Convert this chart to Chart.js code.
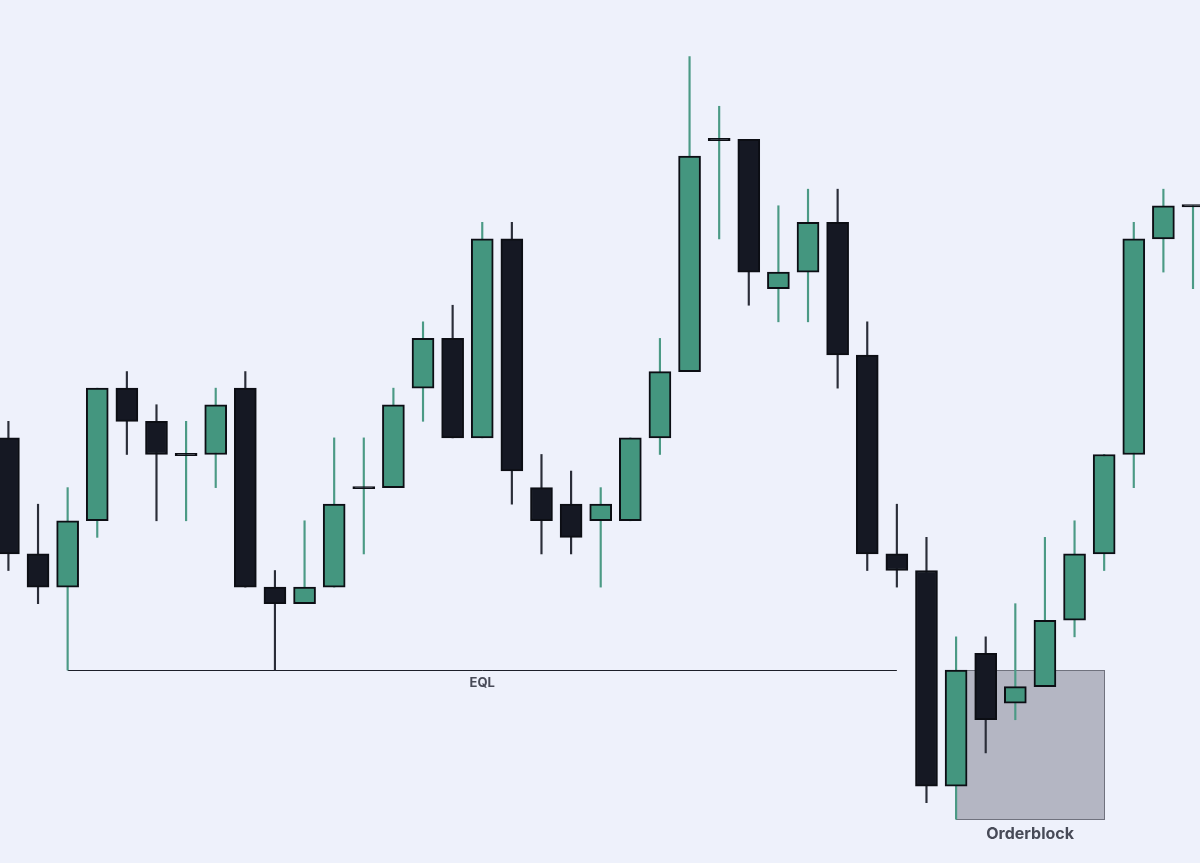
<!DOCTYPE html>
<html>
<head>
<meta charset="utf-8">
<title>EQL / Orderblock</title>
<script src="https://cdn.jsdelivr.net/npm/chart.js@4.4.1/dist/chart.umd.min.js"></script>
<style>
    html, body { margin: 0; padding: 0; background: #eef1fb; }
    #wrap { width: 1200px; height: 863px; position: relative; }
</style>
</head>
<body>
<div id="wrap"><canvas id="candleChart"></canvas></div>
<script>
// candle data (one entry per candle, left to right)
var opens  = [121,114,112,116,124,122,120,120,124,112,111,112,118,118,124,127,121,133,118,117,116,116,121,125,139,139,130,131,134,126,114,113,100,108,105,106,110,114,120,133,135];
var highs  = [122,117,118,124,125,123,122,124,125,113,116,121,121,124,128,129,134,134,120,119,118,121,127,144,141,139,135,136,136,128,117,115,109,109,111,115,116,120,134,136,135];
var lows   = [113,111,107,115,120,116,116,118,112,107,111,112,114,118,122,121,121,117,114,114,112,116,120,125,133,129,128,128,124,113,112, 99, 98,102,104,106,109,113,118,131,130];
var closes = [114,112,116,124,122,120,120,123,112,111,112,117,118,123,127,121,133,119,116,115,117,121,125,138,139,131,131,134,126,114,113,100,107,104,106,110,114,120,133,135,135];

// equal lows line and the order block (candle index / price)
var eqlLevel = 107;
var eqlFrom = 2, eqlTo = 30;
var obFrom = 32, obTo = 37;
var obTop = 107, obBottom = 98;

var green = '#44967f';
var dark = '#151823';
var greenWick = '#4b9a85';
var darkWick = '#2a2d38';

var bodyData = [], wickData = [], bodyColors = [], wickColors = [];
for (var i = 0; i < opens.length; i++) {
    var up = closes[i] >= opens[i];
    var lo = Math.min(opens[i], closes[i]);
    var hi = Math.max(opens[i], closes[i]);
    var doji = hi - lo < 0.01;
    if (doji) {
        lo = lo - 0.07;
        hi = hi + 0.07;
    }
    bodyData.push({x: i, y: [lo, hi]});
    wickData.push({x: i, y: [lows[i], highs[i]]});
    bodyColors.push(doji ? dark : (up ? green : dark));
    wickColors.push(up ? greenWick : darkWick);
}

var markup = {
    id: 'markup',
    beforeDatasetsDraw: function(chart) {
        var c = chart.ctx, xs = chart.scales.x, ys = chart.scales.y;
        c.save();
        // order block box
        var x1 = xs.getPixelForValue(obFrom), x2 = xs.getPixelForValue(obTo);
        var y1 = ys.getPixelForValue(obTop), y2 = ys.getPixelForValue(obBottom);
        c.fillStyle = '#b4b6c3';
        c.fillRect(x1, y1, x2 - x1, y2 - y1);
        c.strokeStyle = '#70727e';
        c.lineWidth = 1;
        c.strokeRect(Math.round(x1) + 0.5, Math.round(y1) + 0.5, Math.round(x2 - x1), Math.round(y2 - y1));

        // EQL line
        var ly = Math.round(ys.getPixelForValue(eqlLevel)) + 0.5;
        c.strokeStyle = '#1c1f29';
        c.beginPath();
        c.moveTo(xs.getPixelForValue(eqlFrom), ly);
        c.lineTo(xs.getPixelForValue(eqlTo), ly);
        c.stroke();

        c.fillStyle = '#474a57';
        c.textAlign = 'center';
        c.textBaseline = 'middle';
        c.font = 'bold 13px Inter, "Noto Sans", sans-serif';
        c.fillText('EQL', xs.getPixelForValue((eqlFrom + eqlTo) / 2), ly + 13);
        c.font = 'bold 16px Inter, "Noto Sans", sans-serif';
        c.fillText('Orderblock', xs.getPixelForValue((obFrom + obTo) / 2), y2 + 15);
        c.restore();
    }
};

var ctx = document.getElementById('candleChart').getContext('2d');
new Chart(ctx, {
    type: 'bar',
    data: {
        datasets: [{
            label: 'body',
            data: bodyData,
            backgroundColor: bodyColors,
            borderColor: '#0c0e14',
            borderWidth: 2,
            borderSkipped: false,
            barThickness: 22,
            grouped: false,
            order: 0
        }, {
            label: 'wick',
            data: wickData,
            backgroundColor: wickColors,
            borderWidth: 0,
            barThickness: 1.5,
            grouped: false,
            order: 1
        }]
    },
    options: {
        responsive: true,
        maintainAspectRatio: false,
        animation: false,
        layout: { padding: 0 },
        plugins: {
            legend: { display: false },
            tooltip: { enabled: false }
        },
        scales: {
            x: { type: 'linear', min: -0.284, max: 40.236, offset: false, grid: { offset: false }, display: false },
            y: { min: 95.36, max: 147.41, display: false }
        }
    },
    plugins: [markup]
});
</script>
</body>
</html>
